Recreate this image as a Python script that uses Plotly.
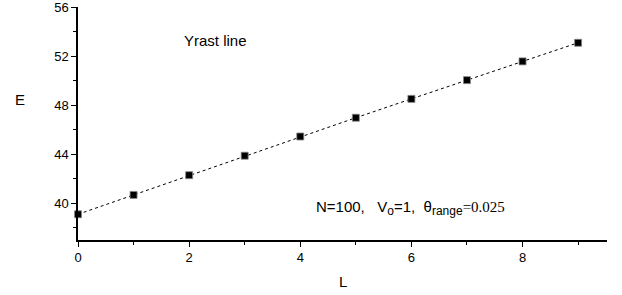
import plotly.graph_objects as go

L = [0, 1, 2, 3, 4, 5, 6, 7, 8, 9]
E = [39.1, 40.68, 42.29, 43.88, 45.45, 46.98, 48.52, 50.05, 51.58, 53.1]

FONT = "Arial, Liberation Sans, sans-serif"
SERIF = "Liberation Serif, Times New Roman, serif"

fig = go.Figure()
fig.add_trace(go.Scatter(
    x=L, y=E, mode="lines+markers",
    line=dict(color="black", width=1, dash="dot"),
    marker=dict(symbol="square", size=7, color="black",
                line=dict(color="#888888", width=0.8)),
    showlegend=False, cliponaxis=False,
))

fig.add_annotation(x=1.87, y=53.3, xref="x", yref="y", text="Yrast line",
                   showarrow=False, xanchor="left", yanchor="middle",
                   font=dict(family=FONT, size=15, color="black"))
fig.add_annotation(
    x=4.25, y=39.6, xref="x", yref="y",
    text=("N=100,   V<sub><span style='font-size:12px'>o</span></sub>=1,  "
          "θ<sub><span style='font-size:12px'>range</span></sub>"
          f"<span style='font-family:{SERIF}'>=0.025</span>"),
    showarrow=False, xanchor="left", yanchor="middle",
    font=dict(family=FONT, size=15, color="black"))

W, H = 622, 295
ml, mr, mt, mb = 78, 15, 7, 55
pw, ph = W - ml - mr, H - mt - mb

# axis titles at pixel positions (~(19,99) for E, ~(342,281) for L)
fig.add_annotation(xref="paper", yref="paper", x=(19.5 - ml) / pw, y=1 - (99 - mt) / ph,
                   xanchor="center", yanchor="middle",
                   text="E", showarrow=False,
                   font=dict(family=FONT, size=15, color="black"))
fig.add_annotation(xref="paper", yref="paper", x=(342.5 - ml) / pw, y=1 - (281 - mt) / ph,
                   xanchor="center", yanchor="middle",
                   text="L", showarrow=False,
                   font=dict(family=FONT, size=15, color="black"))

axis_common = dict(
    showgrid=False, zeroline=False, showline=True, linecolor="black", linewidth=1.5,
    ticks="outside", ticklen=5, tickwidth=1, tickcolor="black",
    tickfont=dict(family=FONT, size=13, color="black"),
    mirror=False, automargin=False, ticklabeloverflow="allow",
)
fig.update_xaxes(range=[0, 9.52], dtick=2, tick0=0,
                 minor=dict(dtick=1, ticks="outside", ticklen=3, tickcolor="black"),
                 **axis_common)
fig.update_yaxes(range=[37, 56.02], dtick=4, tick0=0,
                 minor=dict(dtick=2, ticks="outside", ticklen=3, tickcolor="black"),
                 **axis_common)

fig.update_layout(
    width=W, height=H,
    margin=dict(l=ml, r=mr, t=mt, b=mb),
    plot_bgcolor="white", paper_bgcolor="white",
)
fig.write_html("out.html", config={"displayModeBar": False},
               post_script="document.body.style.margin='0px';")
